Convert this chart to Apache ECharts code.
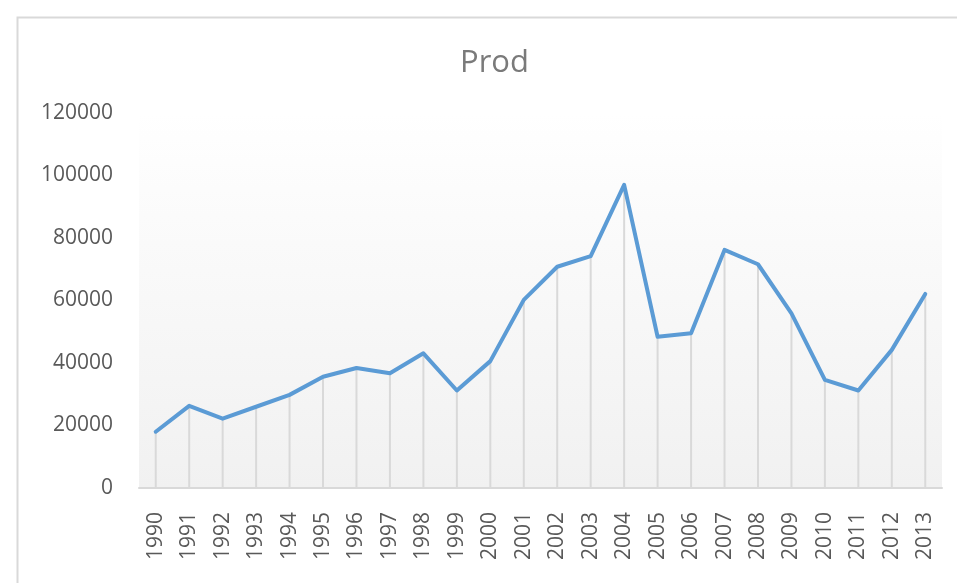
<!DOCTYPE html>
<html>
<head>
<meta charset="utf-8">
<script src="https://cdn.jsdelivr.net/npm/echarts@6/dist/echarts.min.js"></script>
<style>html,body{margin:0;padding:0;background:#fff;}#c{width:957px;height:583px;}</style>
</head>
<body>
<div id="c"></div>
<script>
var years = ['1990','1991','1992','1993','1994','1995','1996','1997','1998','1999','2000','2001','2002','2003','2004','2005','2006','2007','2008','2009','2010','2011','2012','2013'];
var prod = [18000,26300,22200,26000,29800,35600,38400,36700,43100,31200,40600,60200,70800,74200,97000,48400,49500,76200,71600,55900,34600,31200,44200,62100];
var yTicks = {min: 0, max: 120000, interval: 20000};

var chart = echarts.init(document.getElementById('c'), null, {renderer: 'canvas'});
chart.setOption({
  backgroundColor: '#ffffff',
  animation: false,
  title: {
    text: 'Prod', left: 455, top: 43,
    textStyle: {fontFamily: 'Open Sans', fontSize: 31, fontWeight: 'normal', color: '#7a7a7a'}
  },
  graphic: [{
    type: 'rect', left: 15, top: 15, z: -10,
    shape: {width: 1000, height: 1000},
    style: {fill: 'none', stroke: '#d9d9d9', lineWidth: 2}
  }],
  grid: {
    left: 139, right: 15, top: 113, bottom: 95, show: true, borderWidth: 0,
    backgroundColor: new echarts.graphic.LinearGradient(0, 0, 0, 1, [
      {offset: 0, color: '#ffffff'}, {offset: 0.13, color: '#fdfdfd'}, {offset: 1, color: '#f1f1f1'}
    ])
  },
  xAxis: {
    type: 'category', data: years, boundaryGap: true,
    axisLine: {lineStyle: {color: '#d9d9d9', width: 2}},
    axisTick: {show: false},
    axisLabel: {rotate: 90, interval: 0, margin: 24, color: '#595959', fontFamily: 'Open Sans', fontSize: 21, hideOverlap: false}
  },
  yAxis: {
    type: 'value', min: yTicks.min, max: yTicks.max, interval: yTicks.interval,
    axisLine: {show: false}, axisTick: {show: false}, splitLine: {show: false},
    axisLabel: {margin: 26, color: '#595959', fontFamily: 'Open Sans', fontSize: 21,
      formatter: function (v) { return String(v); }}
  },
  series: [
    {type: 'bar', data: prod, barWidth: 2, itemStyle: {color: '#d9d9d9'}, silent: true, z: 1},
    {type: 'line', data: prod, symbol: 'none', z: 3,
     lineStyle: {color: '#5B9BD5', width: 4, join: 'round', cap: 'round'}}
  ]
});
</script>
</body>
</html>
